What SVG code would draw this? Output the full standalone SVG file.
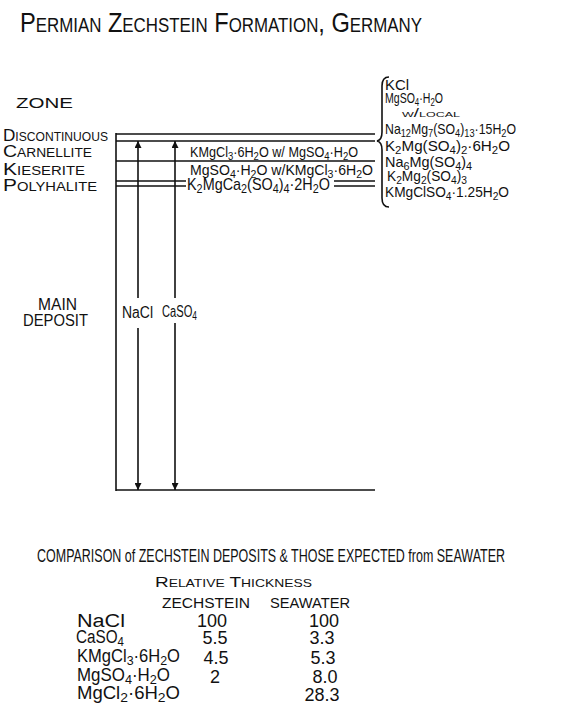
<svg xmlns="http://www.w3.org/2000/svg" width="561" height="720" viewBox="0 0 561 720">
<style>
text{font-family:"Liberation Sans","DejaVu Sans",Arial,sans-serif;fill:#111}
.sc{font-variant:small-caps}
.ln{stroke:#111;stroke-width:1.6;fill:none}
.s{font-size:75%;baseline-shift:-3px}
.f14{font-size:14.5px}
.f15{font-size:15px}
.f16{font-size:16px}
.f18{font-size:18px}
.zn{font-size:17px;font-variant:small-caps}
.num{font-size:18px;text-anchor:middle}
</style>
<defs>
<marker id="ah" viewBox="0 0 10 10" refX="10" refY="5" markerUnits="userSpaceOnUse" markerWidth="13" markerHeight="7" orient="auto">
<path d="M0,0 L10,5 L0,10 z" fill="#111"/>
</marker>
</defs>
<rect width="561" height="720" fill="#fff"/>

<g id="title">
<text class="sc" x="20" y="32" font-size="28" textLength="402" lengthAdjust="spacingAndGlyphs">Permian Zechstein Formation, Germany</text>
</g>

<g id="zone-header"><text class="f15" x="16" y="108" textLength="57" lengthAdjust="spacingAndGlyphs">ZONE</text></g>
<g id="zone-discontinuous"><text class="zn" x="3" y="141" textLength="105" lengthAdjust="spacingAndGlyphs">Discontinuous</text></g>
<g id="zone-carnellite"><text class="zn" x="3" y="157" textLength="89" lengthAdjust="spacingAndGlyphs">Carnellite</text></g>
<g id="zone-kieserite"><text class="zn" x="3" y="175" textLength="82" lengthAdjust="spacingAndGlyphs">Kieserite</text></g>
<g id="zone-polyhalite"><text class="zn" x="3" y="191" textLength="94" lengthAdjust="spacingAndGlyphs">Polyhalite</text></g>
<g id="zone-main">
<text class="f16" x="38" y="310" textLength="39" lengthAdjust="spacingAndGlyphs">MAIN</text>
<text class="f16" x="23" y="326" textLength="65" lengthAdjust="spacingAndGlyphs">DEPOSIT</text>
</g>

<g id="strata">
<line class="ln" x1="116" y1="133" x2="116" y2="491"/>
<line class="ln" x1="116" y1="134" x2="375" y2="134"/>
<line class="ln" x1="116" y1="141" x2="375" y2="141"/>
<line class="ln" x1="116" y1="161" x2="375" y2="161"/>
<line class="ln" x1="116" y1="181" x2="186" y2="181"/>
<line class="ln" x1="116" y1="186" x2="186" y2="186"/>
<line class="ln" x1="334" y1="181" x2="375" y2="181"/>
<line class="ln" x1="334" y1="186" x2="375" y2="186"/>
<line class="ln" x1="116" y1="490" x2="375" y2="490"/>
</g>

<g id="connectors">
<line class="ln" x1="138" y1="298" x2="138" y2="141" marker-end="url(#ah)"/>
<line class="ln" x1="138" y1="328" x2="138" y2="490" marker-end="url(#ah)"/>
<line class="ln" x1="175" y1="298" x2="175" y2="141" marker-end="url(#ah)"/>
<line class="ln" x1="175" y1="323" x2="175" y2="490" marker-end="url(#ah)"/>
</g>

<g id="label-nacl"><text class="f16" x="122" y="318" textLength="31" lengthAdjust="spacingAndGlyphs">NaCl</text></g>
<g id="label-caso4"><text class="f16" x="162" y="317" textLength="35" lengthAdjust="spacingAndGlyphs">CaSO<tspan class="s">4</tspan></text></g>

<g id="mineral-carnellite"><text class="f15" x="190" y="157" textLength="168" lengthAdjust="spacingAndGlyphs">KMgCl<tspan class="s">3</tspan>·6H<tspan class="s">2</tspan>O w/ MgSO<tspan class="s">4</tspan>·H<tspan class="s">2</tspan>O</text></g>
<g id="mineral-kieserite"><text class="f15" x="190" y="175" textLength="183" lengthAdjust="spacingAndGlyphs">MgSO<tspan class="s">4</tspan>·H<tspan class="s">2</tspan>O w/KMgCl<tspan class="s">3</tspan>·6H<tspan class="s">2</tspan>O</text></g>
<g id="mineral-polyhalite"><text x="187" y="190" font-size="17" textLength="143" lengthAdjust="spacingAndGlyphs">K<tspan class="s">2</tspan>MgCa<tspan class="s">2</tspan>(SO<tspan class="s">4</tspan>)<tspan class="s">4</tspan>·2H<tspan class="s">2</tspan>O</text></g>

<g id="discontinuous-list">
<path class="ln" d="M389,77 Q382,77 382,86 L382,132 Q382,140 377,141 Q382,142 382,150 L382,198 Q382,207 389,207"/>
<text class="f14" x="385" y="90" textLength="24" lengthAdjust="spacingAndGlyphs">KCl</text>
<text class="f14" x="385" y="103" textLength="58" lengthAdjust="spacingAndGlyphs">MgSO<tspan class="s">4</tspan>·H<tspan class="s">2</tspan>O</text>
<text class="sc" x="402" y="117" font-size="12" textLength="58" lengthAdjust="spacingAndGlyphs">w/local</text>
<text class="f14" x="385" y="134" textLength="131" lengthAdjust="spacingAndGlyphs">Na<tspan class="s">12</tspan>Mg<tspan class="s">7</tspan>(SO<tspan class="s">4</tspan>)<tspan class="s">13</tspan>·15H<tspan class="s">2</tspan>O</text>
<text class="f14" x="385" y="151" textLength="125" lengthAdjust="spacingAndGlyphs">K<tspan class="s">2</tspan>Mg(SO<tspan class="s">4</tspan>)<tspan class="s">2</tspan>·6H<tspan class="s">2</tspan>O</text>
<text class="f14" x="385" y="167" textLength="87" lengthAdjust="spacingAndGlyphs">Na<tspan class="s">6</tspan>Mg(SO<tspan class="s">4</tspan>)<tspan class="s">4</tspan></text>
<text class="f14" x="387" y="181" textLength="80" lengthAdjust="spacingAndGlyphs">K<tspan class="s">2</tspan>Mg<tspan class="s">2</tspan>(SO<tspan class="s">4</tspan>)<tspan class="s">3</tspan></text>
<text class="f14" x="385" y="197" textLength="124" lengthAdjust="spacingAndGlyphs">KMgClSO<tspan class="s">4</tspan>·1.25H<tspan class="s">2</tspan>O</text>
</g>

<g id="comparison-heading">
<text transform="translate(37,562) scale(1,1.3)" x="0" y="0" font-size="13.5" textLength="468" lengthAdjust="spacingAndGlyphs">COMPARISON of ZECHSTEIN DEPOSITS &amp; THOSE EXPECTED from SEAWATER</text>
<text class="sc" x="155" y="587" font-size="15" textLength="157" lengthAdjust="spacingAndGlyphs">Relative Thickness</text>
<text x="162" y="608" font-size="14" textLength="88" lengthAdjust="spacingAndGlyphs">ZECHSTEIN</text>
<text x="270" y="608" font-size="14" textLength="80" lengthAdjust="spacingAndGlyphs">SEAWATER</text>
</g>

<g id="row-nacl">
<text class="f18" x="77" y="627" textLength="48" lengthAdjust="spacingAndGlyphs">NaCl</text>
<text class="num" x="212" y="627">100</text>
<text class="num" x="324" y="627">100</text>
</g>
<g id="row-caso4">
<text class="f18" x="76" y="643" textLength="48" lengthAdjust="spacingAndGlyphs">CaSO<tspan class="s">4</tspan></text>
<text class="num" x="215" y="644">5.5</text>
<text class="num" x="322" y="644">3.3</text>
</g>
<g id="row-kmgcl3">
<text class="f18" x="77" y="662" textLength="103" lengthAdjust="spacingAndGlyphs">KMgCl<tspan class="s">3</tspan>·6H<tspan class="s">2</tspan>O</text>
<text class="num" x="216" y="664">4.5</text>
<text class="num" x="323" y="664">5.3</text>
</g>
<g id="row-mgso4">
<text class="f18" x="77" y="681" textLength="93" lengthAdjust="spacingAndGlyphs">MgSO<tspan class="s">4</tspan>·H<tspan class="s">2</tspan>O</text>
<text class="num" x="215" y="683">2</text>
<text class="num" x="325" y="683">8.0</text>
</g>
<g id="row-mgcl2">
<text class="f18" x="77" y="699" textLength="103" lengthAdjust="spacingAndGlyphs">MgCl<tspan class="s">2</tspan>·6H<tspan class="s">2</tspan>O</text>
<text class="num" x="322" y="701">28.3</text>
</g>
</svg>
